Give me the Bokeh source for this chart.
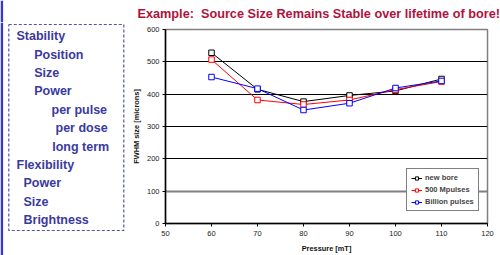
from bokeh.plotting import figure
from bokeh.models import Range1d, FixedTicker, Grid, Legend, LegendItem
from bokeh.layouts import row, column
from bokeh.core.properties import value
from bokeh.embed import file_html
from bokeh.resources import INLINE

# ---- data ----
pressure = [60, 70, 80, 90, 100, 110]
new_bore = [528, 415, 377, 396, 410, 447]
mpulses_500 = [507, 382, 368, 382, 414, 439]
billion_pulses = [453, 417, 351, 372, 419, 441]
series_names = ["new bore", "500 Mpulses", "Billion pulses"]
x_ticks = [50, 60, 70, 80, 90, 100, 110, 120]
y_ticks = [0, 100, 200, 300, 400, 500, 600]
title_text = "Example:\u00a0 Source Size Remains Stable over lifetime of bore!"

outline_items = ["Stability", "Position", "Size", "Power", "per pulse", "per dose",
                 "long term", "Flexibility", "Power", "Size", "Brightness"]
outline_indent = [16, 33.7, 33.7, 33.7, 51, 55, 51.7, 16, 23, 23, 23]

FONT = "Liberation Sans"
TXT_BLUE = "#3a3a9e"
BAR_BLUE = "#3838c8"
W, H = 500, 255
TOP_H = 22
LEFT_W = 128


def blank(fig):
    fig.axis.visible = False
    fig.grid.visible = False


# ---- title strip (coordinates = page pixels) ----
top = figure(width=W, height=TOP_H, output_backend="svg", toolbar_location=None,
             x_range=Range1d(0, W), y_range=Range1d(TOP_H, 0), min_border=0,
             outline_line_color=None, frame_align=False)
blank(top)
top.line(x=[1.3, 1.3], y=[0, TOP_H], line_color=BAR_BLUE, line_width=2.6)
top.text(x=[137], y=[13.3], text=[title_text], text_font=value(FONT),
         text_font_style="bold", text_font_size="12.7px", text_color="#b0123c",
         text_baseline="middle", text_align="left")

# ---- left outline panel (coordinates = page pixels) ----
left = figure(width=LEFT_W, height=H - TOP_H, output_backend="svg",
              toolbar_location=None, x_range=Range1d(0, LEFT_W),
              y_range=Range1d(H, TOP_H), min_border=0, outline_line_color=None,
              frame_align=False)
blank(left)
left.line(x=[1.3, 1.3], y=[TOP_H, H], line_color=BAR_BLUE, line_width=2.6)
bx0, bx1, by0, by1 = 8.3, 123.3, 24, 230
left.line(x=[bx0, bx1, bx1, bx0, bx0], y=[by0, by0, by1, by1, by0],
          line_color="#5252b0", line_dash="3 2", line_width=1.2)
ys = [35.7 + 18.4 * i for i in range(len(outline_items))]
left.text(x=outline_indent, y=ys, text=outline_items, text_font=value(FONT),
          text_font_style="bold", text_font_size="12.5px", text_color=TXT_BLUE,
          text_baseline="middle", text_align="left")

# ---- main chart ----
p = figure(width=W - LEFT_W, height=H - TOP_H, output_backend="svg",
           toolbar_location=None, x_range=Range1d(50, 120), y_range=Range1d(0, 600),
           min_border_left=34, min_border_right=13, min_border_top=29 - TOP_H,
           min_border_bottom=32, outline_line_color="#808080", outline_line_width=1.5,
           frame_align=False)

p.xgrid.visible = False
p.ygrid.ticker = FixedTicker(ticks=[200, 300, 400, 500, 600])
p.ygrid.grid_line_color = "black"
p.ygrid.grid_line_width = 1.2
g100 = Grid(dimension=1, ticker=FixedTicker(ticks=[100]), grid_line_color="#808080",
            grid_line_width=2)
p.add_layout(g100)

for ax in (p.xaxis[0], p.yaxis[0]):
    ax.axis_line_color = "black"
    ax.axis_line_width = 1.5
    ax.major_tick_line_color = "black"
    ax.major_tick_out = 3
    ax.major_tick_in = 0
    ax.minor_tick_line_color = None
    ax.major_label_text_font = FONT
    ax.major_label_text_font_size = "7.5px"
    ax.major_label_text_color = "#222222"
    ax.axis_label_text_font = FONT
    ax.axis_label_text_font_style = "bold"
    ax.axis_label_text_font_size = "7.4px"
    ax.axis_label_text_color = "#111111"

p.xaxis[0].ticker = FixedTicker(ticks=x_ticks)
p.yaxis[0].ticker = FixedTicker(ticks=y_ticks)
p.xaxis[0].axis_label = "Pressure [mT]"
p.yaxis[0].axis_label = "FWHM size [microns]"
p.xaxis[0].major_label_standoff = 4
p.yaxis[0].major_label_standoff = 3
p.xaxis[0].axis_label_standoff = 5
p.yaxis[0].axis_label_standoff = 3

items = []
for name, vals, col in zip(series_names, [new_bore, mpulses_500, billion_pulses],
                           ["black", "#ff0000", "#0000ff"]):
    l = p.line(pressure, vals, line_color=col, line_width=1)
    s = p.scatter(pressure, vals, marker="square", size=5.5, line_color=col,
                  fill_color="white", line_width=1)
    items.append(LegendItem(label=name, renderers=[l, s]))

leg = Legend(items=items, location=(241, 12), label_text_font=FONT,
             label_text_font_style="bold", label_text_font_size="7.5px",
             label_height=8, glyph_height=8, glyph_width=11, spacing=3,
             padding=4, margin=0, label_standoff=3,
             border_line_color="black", border_line_width=1,
             background_fill_color="white", background_fill_alpha=1)
p.add_layout(leg, "center")

layout = column(top, row(left, p, spacing=0), spacing=0)
open("out.html", "w").write(file_html(layout, INLINE))
